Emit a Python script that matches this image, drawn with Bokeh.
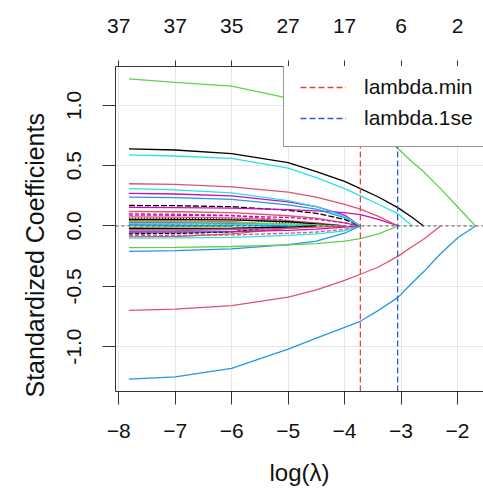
from bokeh.plotting import figure
from bokeh.models import LinearAxis, FixedTicker, Span, Range1d, Title
from bokeh.embed import file_html
from bokeh.resources import INLINE

# ---- data -------------------------------------------------------------
log_lambda = [-7.82, -7.0, -6.0, -5.0, -4.5, -4.0, -3.72, -3.4, -3.05, -2.8, -2.6, -2.3, -2.0, -1.68]

v01 = [1.22, 1.19, 1.16, 1.06, 0.99, 0.91, 0.85, 0.76, 0.64, 0.53, 0.45, 0.31, 0.16, 0.0]
v02 = [-1.27, -1.25, -1.18, -1.02, -0.93, -0.84, -0.79, -0.70, -0.59, -0.47, -0.38, -0.23, -0.10, 0.0]
v03 = [-0.70, -0.69, -0.66, -0.59, -0.53, -0.45, -0.40, -0.34, -0.25, -0.17, -0.11, 0.0]
v04 = [0.64, 0.63, 0.60, 0.525, 0.45, 0.37, 0.31, 0.24, 0.15, 0.07, 0.0]
v05 = [0.59, 0.58, 0.56, 0.48, 0.40, 0.31, 0.25, 0.18, 0.10, 0.0]
v06 = [0.35, 0.345, 0.325, 0.28, 0.24, 0.18, 0.14, 0.08, 0.0]
v07 = [0.31, 0.30, 0.275, 0.21, 0.16, 0.08, 0.0]
v08 = [0.27, 0.265, 0.25, 0.20, 0.16, 0.09, 0.0]
v09 = [0.24, 0.235, 0.22, 0.175, 0.14, 0.07, 0.0]
v10 = [0.17, 0.168, 0.16, 0.13, 0.105, 0.055, 0.0]
v11 = [0.155, 0.153, 0.148, 0.135, 0.125, 0.11, 0.095, 0.055, 0.0]
v12 = [0.12, 0.118, 0.11, 0.085, 0.065, 0.025, 0.0]
v13 = [0.09, 0.089, 0.085, 0.07, 0.055, 0.025, 0.0]
v14 = [0.075, 0.074, 0.068, 0.045, 0.025, 0.0]
v15 = [0.055, 0.054, 0.05, 0.035, 0.018, 0.0]
v16 = [0.035, 0.034, 0.03, 0.018, 0.008, 0.0]
v17 = [0.02, 0.02, 0.016, 0.008, 0.0]
v18 = [0.006, 0.006, 0.004, 0.0]
v19 = [-0.02, -0.02, -0.018, -0.01, 0.0]
v20 = [-0.03, -0.03, -0.028, -0.02, -0.01, 0.0]
v21 = [-0.05, -0.05, -0.046, -0.036, -0.026, -0.01, 0.0]
v22 = [-0.08, -0.079, -0.074, -0.06, -0.05, -0.028, 0.0]
v23 = [-0.10, -0.099, -0.094, -0.078, -0.066, -0.04, 0.0]
v24 = [-0.18, -0.177, -0.17, -0.157, -0.146, -0.125, -0.105, -0.065, 0.0]
v25 = [-0.21, -0.204, -0.19, -0.155, -0.125, -0.06, 0.0]
v26 = [0.10, 0.098, 0.088, 0.045, 0.0]
v27 = [0.065, 0.064, 0.058, 0.025, 0.0]
v28 = [-0.06, -0.059, -0.05, -0.02, 0.0]
v29 = [0.045, 0.044, 0.035, 0.0]
v30 = [0.025, 0.024, 0.015, 0.0]
v31 = [-0.04, -0.039, -0.03, 0.0]
v32 = [-0.065, -0.063, -0.048, 0.0]
v33 = [0.03, 0.029, 0.02, 0.0]
v34 = [-0.09, -0.087, -0.065, -0.02, 0.0]
v35 = [0.01, 0.01, 0.005, 0.0]
v36 = [0.012, 0.007, 0.0]
v37 = [-0.012, -0.006, 0.0]

series = [v26, v27, v28, v29, v30, v31, v32, v33, v34, v35, v36, v37,
          v14, v15, v16, v17, v18, v19, v20, v21, v22, v23, v12, v13,
          v10, v11, v09, v08, v07, v25, v24, v06, v05, v04, v03, v02, v01]

BLACK, RED, GREEN, BLUE, CYAN, MAGENTA = "#000000", "#DF536B", "#61D04F", "#2297E6", "#28E2E5", "#CD0BBC"
series_colors = [MAGENTA, BLACK, CYAN, RED, GREEN, BLUE, BLACK, MAGENTA, RED, CYAN, BLUE, GREEN,
                 RED, BLACK, GREEN, CYAN, BLUE, BLACK, RED, MAGENTA, RED, CYAN, RED, MAGENTA,
                 BLACK, MAGENTA, BLUE, MAGENTA, CYAN, BLUE, GREEN, RED, CYAN, BLACK, RED, BLUE, GREEN]
series_dash = ["4 2", "1 2", "solid", "solid", "4 2", "solid", "4 2", "solid", "solid", "4 2", "solid", "solid",
               "solid", "solid", "solid", "solid", "4 2", "solid", "solid", "solid", "4 2", "solid", "solid", "4 2",
               "6 2", "solid", "solid", "solid", "solid", "solid", "solid", "solid", "solid", "solid", "solid", "solid", "solid"]

df_ticks = [-8, -7, -6, -5, -4, -3, -2]
df_labels = ["37", "37", "35", "27", "17", "6", "2"]
y_ticks = [-1.0, -0.5, 0.0, 0.5, 1.0]
y_labels = ["-1.0", "-0.5", "0.0", "0.5", "1.0"]
lambda_min = -3.72
lambda_1se = -3.06
x_title = "log(λ)"
y_title = "Standardized Coefficients"

X_LO, X_HI = -8.058, -1.539
Y_LO, Y_HI = -1.372, 1.322

FONT = "Liberation Sans"
AXC = "#333333"
TXT = "#111111"

p = figure(width=483, height=493, output_backend="svg", toolbar_location=None,
           x_range=Range1d(X_LO, X_HI), y_range=Range1d(Y_LO, Y_HI),
           min_border_left=115, min_border_right=0, min_border_top=66, min_border_bottom=102)
p.outline_line_color = None
p.background_fill_color = "white"
p.border_fill_color = "white"

# grid
p.xgrid.grid_line_color = "#E6E6E6"
p.ygrid.grid_line_color = "#E6E6E6"

def style_axis(ax, tick_out, standoff):
    ax.axis_line_color = AXC
    ax.major_tick_line_color = AXC
    ax.minor_tick_line_color = None
    ax.major_tick_out = tick_out
    ax.major_tick_in = 0
    ax.major_label_standoff = standoff
    ax.major_label_text_font = FONT
    ax.major_label_text_font_size = "21px"
    ax.major_label_text_color = TXT

xa = p.xaxis[0]
xa.ticker = FixedTicker(ticks=df_ticks)
style_axis(xa, 13, 19)

ya = p.yaxis[0]
ya.ticker = FixedTicker(ticks=y_ticks)
ya.major_label_overrides = dict(zip(y_ticks, y_labels))
ya.major_label_orientation = "vertical"
style_axis(ya, 13, 21)

top = LinearAxis(ticker=FixedTicker(ticks=df_ticks),
                 major_label_overrides=dict(zip(df_ticks, df_labels)))
style_axis(top, 6, 28)
p.add_layout(top, "above")

# spacers between tick labels and axis titles
p.add_layout(Title(text=" ", text_font_size="12px", standoff=0), "below")
p.add_layout(Title(text=" ", text_font_size="12px", standoff=0), "left")

# axis titles
p.add_layout(Title(text=x_title, align="center", standoff=0,
                   text_font=FONT, text_font_size="24px", text_font_style="normal",
                   text_color=TXT), "below")
p.add_layout(Title(text=y_title, align="left", offset=-6, standoff=0,
                   text_font=FONT, text_font_size="25px", text_font_style="normal",
                   text_color=TXT), "left")

# coefficient paths
for v, c, d in zip(series, series_colors, series_dash):
    p.line(log_lambda[:len(v)], v, line_color=c, line_dash=d, line_width=1.3)

# zero reference line
p.add_layout(Span(location=0, dimension="width", line_color="#555555",
                  line_dash="3 3", line_width=1))

# lambda lines
p.line([lambda_min, lambda_min], [Y_LO, Y_HI], line_color="#F03C3C", line_dash="6 3",
       line_width=1.3, legend_label="lambda.min")
p.line([lambda_1se, lambda_1se], [Y_LO, Y_HI], line_color="#3355DD", line_dash="6 3",
       line_width=1.3, legend_label="lambda.1se")

lg = p.legend[0]
lg.location = (168, 244)
lg.margin = 0
lg.padding = 16
lg.spacing = 7
lg.glyph_width = 46
lg.glyph_height = 20
lg.label_height = 20
lg.label_standoff = 18
lg.label_text_font = FONT
lg.label_text_font_size = "21px"
lg.label_text_color = TXT
lg.border_line_color = AXC
lg.border_line_width = 1
lg.background_fill_color = "white"
lg.background_fill_alpha = 1.0

open("out.html", "w").write(file_html(p, INLINE))
